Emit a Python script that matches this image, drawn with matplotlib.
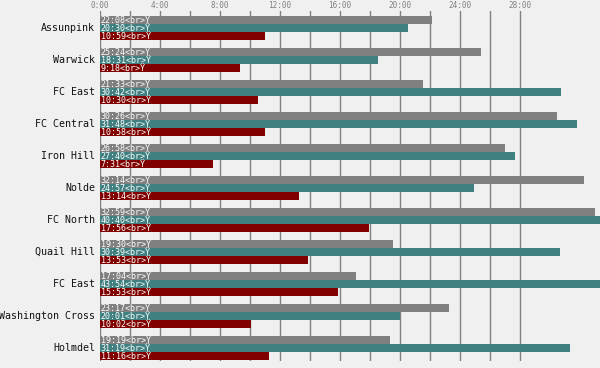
import matplotlib
matplotlib.use("Agg")
import matplotlib.pyplot as plt

categories = ["Assunpink", "Warwick", "FC East", "FC Central", "Iron Hill", "Nolde",
              "FC North", "Quail Hill", "FC East", "Washington Cross", "Holmdel"]
series_gray = ["22:08", "25:24", "21:33", "30:26", "26:58", "32:14", "32:59", "19:30", "17:04", "23:17", "19:19"]
series_teal = ["20:30", "18:31", "30:42", "31:48", "27:40", "24:57", "40:40", "30:39", "43:54", "20:01", "31:19"]
series_red = ["10:59", "9:18", "10:30", "10:58", "7:31", "13:14", "17:56", "13:53", "15:53", "10:02", "11:16"]
tick_labels = ["0:00", "4:00", "8:00", "12:00", "16:00", "20:00", "24:00", "28:00"]
label_suffix = "<br>\u0178"

colors = ["#808080", "#408080", "#800000"]
BG = "#f0f0f0"

def to_min(s):
    m, sec = s.split(":")
    return int(m) + int(sec) / 60.0

W, H = 600, 368
fig = plt.figure(figsize=(W / 100, H / 100), dpi=100, facecolor=BG)
top_px, bot_px, left_px = 11, 361, 100
ax = fig.add_axes([left_px / W, 1 - bot_px / H, 1 - left_px / W, (bot_px - top_px) / H])
ax.set_facecolor(BG)
for s in ax.spines.values():
    s.set_visible(False)

xmax = (W - left_px) / 15.0
ax.set_xlim(0, xmax)
ax.set_ylim(bot_px, top_px)

# grid lines every 2 minutes
for t in range(0, 29, 2):
    ax.axvline(t, color="#808080", lw=1, zorder=0)

mono = "DejaVu Sans Mono"
bar_h = 8
pitch = 32
for i, cat in enumerate(categories):
    gtop = 16 + pitch * i
    for j, ser in enumerate([series_gray, series_teal, series_red]):
        y = gtop + bar_h * j
        ax.barh(y, to_min(ser[i]), height=bar_h, align="edge", color=colors[j], zorder=2, linewidth=0)
        ax.text(0.05, y + bar_h / 2 + 0.3, ser[i] + label_suffix, color="white", fontsize=6,
                family=mono, ha="left", va="center", zorder=3)
    ax.text(-5 / 15.0, gtop + 12, cat, fontsize=7.2, family=mono, color="#111111",
            ha="right", va="center", clip_on=False)

ax.set_yticks([])
ax.set_xticks([])
for k, lab in enumerate(tick_labels):
    ax.text(4 * k, 6, lab, fontsize=5.5, family=mono, color="#808080",
            ha="center", va="center", clip_on=False)

fig.savefig("out.png", dpi=100, facecolor=BG)
